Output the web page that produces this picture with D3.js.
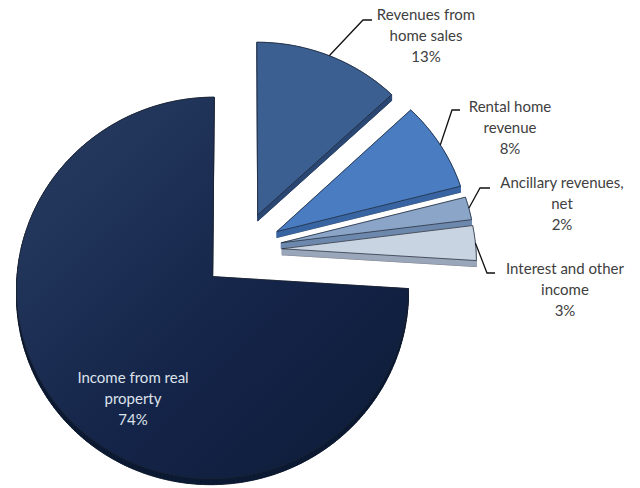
<!DOCTYPE html>
<html>
<head>
<meta charset="utf-8">
<script src="https://cdn.jsdelivr.net/npm/d3@7"></script>
<style>
  body { margin: 0; background: #fff; }
  text { font-family: Lato, "Open Sans", sans-serif; }
</style>
</head>
<body>
<div id="chart"></div>
<script>
// slices in clockwise order starting at 12 o'clock
var categories = ["Revenues from home sales", "Rental home revenue", "Ancillary revenues, net", "Interest and other income", "Income from real property"];
var values = [13, 8, 2, 3, 74];
var labelLines = [["Revenues from", "home sales"], ["Rental home", "revenue"], ["Ancillary revenues,", "net"], ["Interest and other", "income"], ["Income from real", "property"]];

// styling / layout, kept apart from the data
var topColors = ["#3b5f91", "#4a7cc1", "#8ba5c8", "#c9d4e3", "url(#bigGrad)"];
var sideColors = ["#2a4773", "#3864a2", "#6d88ad", "#9aa6ba", "#0c1a33"];
var labelPos = [
    {x: 426, y: 20, elbow: [363, 20], end: [372, 20]},
    {x: 510, y: 112, elbow: [452, 110], end: [460, 110]},
    {x: 562, y: 188, elbow: [480, 188], end: [490, 188]},
    {x: 565, y: 274, elbow: [487, 273], end: [495, 273]},
    {x: 133, y: 383}
];
var drawOrder = [0, 1, 2, 3, 4];

var width = 640, height = 488,
    R = 194, explode = 40,
    cx = 242, cy = 250,
    tilt = 0.9636, persp = 0.000303, depth = 6;

var svg = d3.select("#chart").append("svg")
    .attr("width", width)
    .attr("height", height);

var defs = svg.append("defs");
var grad = defs.append("linearGradient").attr("id", "bigGrad")
    .attr("x1", "0%").attr("y1", "0%").attr("x2", "100%").attr("y2", "100%");
grad.append("stop").attr("offset", "0%").attr("stop-color", "#293e63");
grad.append("stop").attr("offset", "55%").attr("stop-color", "#15254a");
grad.append("stop").attr("offset", "100%").attr("stop-color", "#0c1b36");

var pie = d3.pie().sort(null).value(function (d) { return d; });
var arcs = pie(values);

// perspective projection of a point in the pie plane (angle clockwise from top)
function project(a, r, off) {
    var u = r * Math.sin(a) + off[0],
        v = -r * Math.cos(a) + off[1];
    var s = 1 / (1 - persp * v);
    return [cx + u * s, cy + v * tilt * s];
}

function sliceOffset(d) {
    var mid = (d.startAngle + d.endAngle) / 2;
    return [explode * Math.sin(mid), -explode * Math.cos(mid)];
}

function slicePoints(d) {
    var off = sliceOffset(d),
        pts = [project(0, 0, off)],
        n = Math.max(4, Math.ceil((d.endAngle - d.startAngle) / 0.02));
    for (var i = 0; i <= n; i++) {
        var a = d.startAngle + (d.endAngle - d.startAngle) * i / n;
        pts.push(project(a, R, off));
    }
    return pts;
}

var line = d3.line().curve(d3.curveLinearClosed);
var layer = svg.append("g").attr("class", "slices");

drawOrder.forEach(function (i) {
    var d = arcs[i],
        pts = slicePoints(d),
        low = pts.map(function (p) { return [p[0], p[1] + depth]; }),
        g = layer.append("g");

    // bottom face and side walls
    g.append("path").attr("d", line(low))
        .attr("fill", sideColors[i]).attr("stroke", "#222").attr("stroke-width", 0.6);
    for (var k = 0; k < pts.length; k++) {
        var k2 = (k + 1) % pts.length;
        g.append("path")
            .attr("d", line([pts[k], pts[k2], low[k2], low[k]]))
            .attr("fill", sideColors[i])
            .attr("stroke", sideColors[i]).attr("stroke-width", 0.6);
    }
    // top face
    g.append("path").attr("d", line(pts))
        .attr("fill", topColors[i])
        .attr("stroke", "#1d2430").attr("stroke-width", 0.7);
});

// labels
arcs.forEach(function (d, i) {
    var p = labelPos[i],
        inside = (i === 4),
        lines = labelLines[i].concat([values[i] + "%"]);

    if (!inside) {
        var mid = (d.startAngle + d.endAngle) / 2,
            start = project(mid, R, sliceOffset(d));
        svg.append("path")
            .attr("d", d3.line()([start, p.elbow, p.end]))
            .attr("fill", "none").attr("stroke", "#111").attr("stroke-width", 1.3);
    }

    var t = svg.append("text")
        .attr("text-anchor", "middle")
        .attr("font-size", 15)
        .attr("fill", inside ? "#dde2ea" : "#404040");
    lines.forEach(function (s, j) {
        t.append("tspan").attr("x", p.x).attr("y", p.y + j * 21).text(s);
    });
});
</script>
</body>
</html>
